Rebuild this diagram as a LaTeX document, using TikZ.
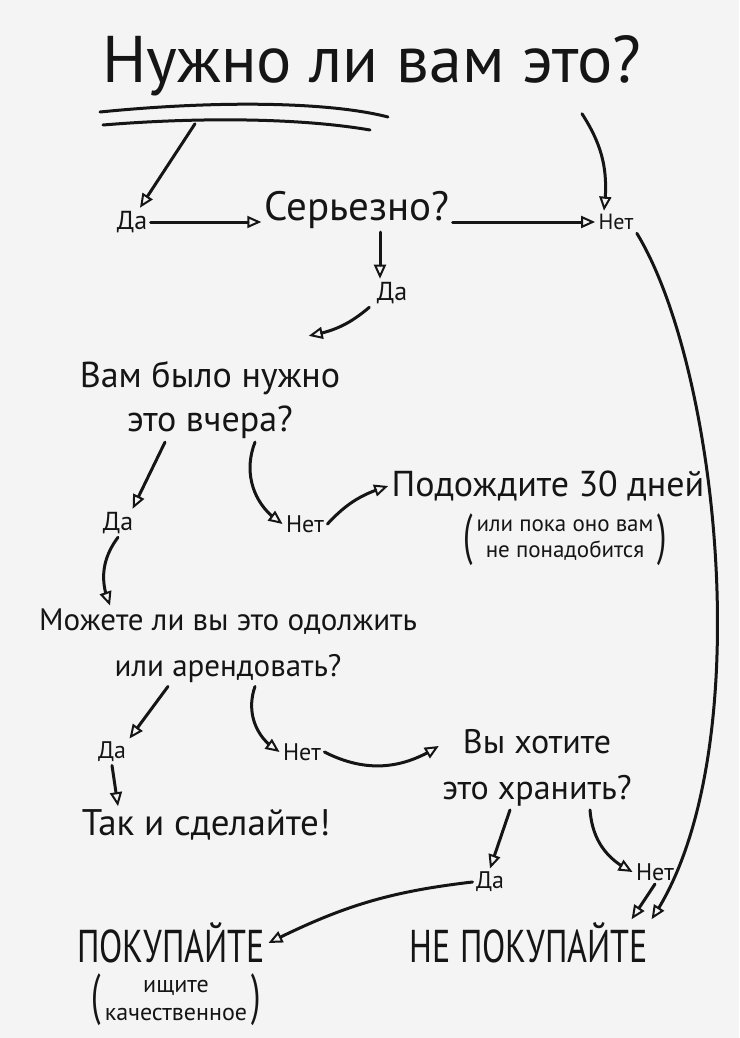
\documentclass[tikz,border=0pt]{standalone}
\usepackage{fontspec}
\setmainfont{PT Sans}
\usetikzlibrary{arrows.meta,bending,positioning}

\definecolor{ink}{HTML}{151515}
\definecolor{paper}{HTML}{F4F4F4}
\tikzset{
  fs/.style 2 args={font=\fontsize{#1}{#2}\selectfont},
  caps/.style={font=\fontsize{46}{50}\selectfont\addfontfeature{FakeStretch=0.74}},
  lbl/.style={text=ink,inner sep=2pt,align=center},
  paren/.style={text=ink,inner sep=0pt,font=\fontsize{56}{56}\selectfont\addfontfeature{FakeStretch=0.6}},
}

\begin{document}
\begin{tikzpicture}[x=1pt,y=-1pt,>={Triangle[open,length=14pt,width=12pt,line width=2pt]},line width=3pt,line cap=round,ink]
\fill[paper](0,0)rectangle(739,1038);
\useasboundingbox(0,0)rectangle(739,1038);
% questions and answers
\node[lbl,fs={66}{72}](q)at(372,66){Нужно ли вам это?};
\node[lbl,fs={26}{30}](y1)at(132,222){Да};
\node[lbl,fs={41}{48}](s)at(357,210){Серьезно?};
\node[lbl,fs={22}{26}](n1)at(616,222){Нет};
\node[lbl,fs={26}{30}](y2)at(392,293){Да};
\node[lbl,fs={36}{44}](v)at(210,400){Вам было нужно\\это вчера?};
\node[lbl,fs={26}{30}](y3)at(118,523){Да};
\node[lbl,fs={24}{28}](n3)at(305,524){Нет};
\node[lbl,fs={36}{42}](w)at(548,486){Подождите 30 дней};
\node[lbl,fs={23}{26},inner sep=0pt](wn)at(565,540){или пока оно вам\\не понадобится};
\node[paren,left=1pt of wn](wl){(};
\node[paren,right=1pt of wn](wr){)};
\node[lbl,fs={31}{46}](m)at(228,646){Можете ли вы это одолжить\\или арендовать?};
\node[lbl,fs={24}{28}](y4)at(112,752){Да};
\node[lbl,fs={24}{28}](n4)at(302,752){Нет};
\node[lbl,fs={34}{46}](h)at(537,768){Вы хотите\\это хранить?};
\node[lbl,fs={37}{42}](t)at(206,825){Так и сделайте!};
\node[lbl,fs={24}{28}](y5)at(490,882){Да};
\node[lbl,fs={24}{28}](n5)at(655,872){Нет};
\node[lbl,caps](b)at(171,943){ПОКУПАЙТЕ};
\node[lbl,fs={24}{28},inner sep=0pt](bn)at(176,1000){ищите\\качественное};
\node[paren,left=1pt of bn](bl){(};
\node[paren,right=1pt of bn](br){)};
\node[lbl,caps](nb)at(529,943){НЕ ПОКУПАЙТЕ};
% underline
\draw(100,112)..controls(220,100)and(330,102)..(388,117);
\draw(103,125)..controls(200,117)and(300,118)..(370,130);
% arrows
\draw[->]([shift={(-177pt,-24pt)}]q.south)--([xshift=8pt]y1.north);
\draw[->]([shift={(210pt,-14pt)}]q.south)to[bend left=20]([xshift=-12pt]n1.north);
\draw[->](y1.east)--(y1.east-|s.west);
\draw[->](s.east|-n1.west)--(n1.west);
\draw[->]([xshift=23pt]s.south)--([xshift=23pt]s.south|-y2.north);
\draw[->]([xshift=-4pt]y2.south west)to[bend left=15]([shift={(-35pt,22pt)}]v.north east);
\draw[->]([xshift=-45pt]v.south)--([xshift=-4pt]y3.north east);
\draw[->]([xshift=45pt]v.south)to[bend right=40](n3.west);
\draw[->](n3.east)to[bend left=15](w.west);
\draw[->](y3.south)to[bend right=30]([xshift=-118pt]m.north);
\draw[->]([xshift=-60pt]m.south)--(y4.north east);
\draw[->]([xshift=27pt]m.south)to[bend right=40](n4.west);
\draw[->](n4.east)to[bend right=30]([yshift=22pt]h.west);
\draw[->](y4.south)--([xshift=-88pt]t.north);
\draw[->]([xshift=-27pt]h.south)--(y5.north);
\draw[->]([xshift=53pt]h.south)to[bend right=30](n5.west);
\draw[->](y5.west)to[bend right=10](b.east);
\draw[->](n5.south)--([xshift=-20pt]nb.north east);
\draw[->](n1.south east)..controls(720,370)and(760,760)..(nb.north east);
\end{tikzpicture}
\end{document}
